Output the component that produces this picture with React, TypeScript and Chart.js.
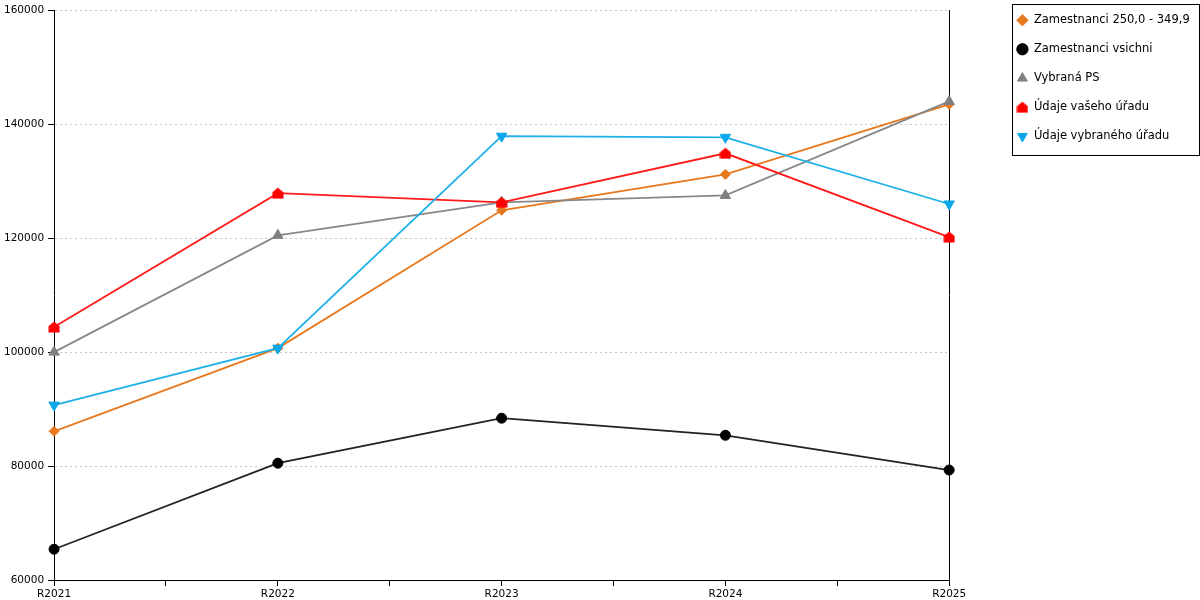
import { useEffect, useRef } from 'react'
import { Chart, registerables } from 'chart.js'

Chart.register(...registerables)

// values
const categories = ['R2021', 'R2022', 'R2023', 'R2024', 'R2025']
const zamestnanci250 = [86100, 100700, 124900, 131200, 143500]
const zamestnanciVsichni = [65400, 80500, 88400, 85400, 79300]
const vybranaPS = [100000, 120500, 126300, 127500, 144000]
const udajeVasehoUradu = [104400, 127900, 126300, 134900, 120200]
const udajeVybranehoUradu = [90700, 100700, 137900, 137700, 126000]
const yTicks = [60000, 80000, 100000, 120000, 140000, 160000]

const FONT = 'DejaVu Sans, Verdana, sans-serif'

function houseMarker(color: string) {
  const c = document.createElement('canvas')
  c.width = 12
  c.height = 12
  const ctx = c.getContext('2d')
  if (ctx) {
    ctx.fillStyle = color
    ctx.beginPath()
    ctx.moveTo(6, 0.5)
    ctx.lineTo(11.5, 5)
    ctx.lineTo(11.5, 11.5)
    ctx.lineTo(0.5, 11.5)
    ctx.lineTo(0.5, 5)
    ctx.closePath()
    ctx.fill()
  }
  return c
}

const toPoints = (values: number[]) => values.map((y, i) => ({ x: i, y }))

// frame around the legend + small upward nudge of the legend
const legendFrame = {
  id: 'legendFrame',
  afterLayout(chart: any) {
    const l = chart.legend
    if (l) {
      l.top -= 3
      l.bottom -= 3
    }
  },
  afterDraw(chart: any) {
    const l = chart.legend
    if (!l || !l.legendHitBoxes || !l.legendHitBoxes.length) return
    const boxes = l.legendHitBoxes
    const first = boxes[0]
    const last = boxes[boxes.length - 1]
    const x0 = Math.round(first.left - 5) + 0.5
    const x1 = Math.round(l.right) + 0.5
    const y0 = Math.round(first.top - 11) + 0.5
    const y1 = Math.round(last.top + last.height + 13) + 0.5
    const ctx = chart.ctx
    ctx.save()
    ctx.strokeStyle = '#000'
    ctx.lineWidth = 1
    ctx.strokeRect(x0, y0, x1 - x0, y1 - y0)
    ctx.restore()
  },
}

export default function App() {
  const canvasRef = useRef<HTMLCanvasElement>(null)
  const chartRef = useRef<Chart | null>(null)

  useEffect(() => {
    document.body.style.margin = '0'
    if (!canvasRef.current) return
    if (chartRef.current) chartRef.current.destroy()

    const ctx = canvasRef.current.getContext('2d')
    if (!ctx) return

    chartRef.current = new Chart(ctx, {
      type: 'line',
      data: {
        datasets: [
          {
            label: 'Zamestnanci 250,0 - 349,9',
            data: toPoints(zamestnanci250),
            borderColor: '#e8781e',
            backgroundColor: '#e8781e',
            borderWidth: 1.8,
            pointStyle: 'rectRot',
            pointRadius: 5,
            pointBackgroundColor: '#e8781e',
            pointBorderColor: '#e8781e',
            pointBorderWidth: 1,
            order: 5,
          },
          {
            label: 'Zamestnanci vsichni',
            data: toPoints(zamestnanciVsichni),
            borderColor: '#222222',
            backgroundColor: '#000000',
            borderWidth: 1.8,
            pointStyle: 'circle',
            pointRadius: 5,
            pointBackgroundColor: '#000000',
            pointBorderColor: '#000000',
            pointBorderWidth: 1,
            order: 4,
          },
          {
            label: 'Vybraná PS',
            data: toPoints(vybranaPS),
            borderColor: '#888888',
            backgroundColor: '#808080',
            borderWidth: 1.8,
            pointStyle: 'triangle',
            pointRadius: 6,
            pointBackgroundColor: '#808080',
            pointBorderColor: '#808080',
            pointBorderWidth: 1,
            order: 3,
          },
          {
            label: 'Údaje vašeho úřadu',
            data: toPoints(udajeVasehoUradu),
            borderColor: '#ff1a1a',
            backgroundColor: '#ff0000',
            borderWidth: 1.8,
            pointStyle: houseMarker('#ff0000'),
            pointRadius: 6,
            pointBackgroundColor: '#ff0000',
            pointBorderColor: '#ff0000',
            pointBorderWidth: 1,
            order: 2,
          },
          {
            label: 'Údaje vybraného úřadu',
            data: toPoints(udajeVybranehoUradu),
            borderColor: '#1eb0e8',
            backgroundColor: '#0aa8ea',
            borderWidth: 1.8,
            pointStyle: 'triangle',
            pointRotation: 180,
            pointRadius: 6,
            pointBackgroundColor: '#0aa8ea',
            pointBorderColor: '#0aa8ea',
            pointBorderWidth: 1,
            order: 1,
          },
        ],
      },
      options: {
        responsive: true,
        maintainAspectRatio: false,
        animation: false,
        clip: false,
        layout: { padding: { left: 0, right: 1, top: 0, bottom: 0 } },
        plugins: {
          tooltip: { enabled: false },
          legend: {
            position: 'right',
            align: 'start',
            reverse: true,
            labels: {
              usePointStyle: true,
              boxWidth: 12,
              boxHeight: 8,
              padding: 17.5,
              color: '#000',
              font: { family: FONT, size: 11.5 },
            },
          },
        },
        scales: {
          x: {
            type: 'linear',
            min: 0,
            max: categories.length - 1,
            grid: {
              display: true,
              drawOnChartArea: false,
              drawTicks: true,
              tickLength: 6,
              color: '#000',
            },
            border: { display: true, color: '#000', width: 1 },
            ticks: {
              stepSize: 0.5,
              autoSkip: false,
              maxRotation: 0,
              padding: 2,
              color: '#000',
              font: { family: FONT, size: 10.5 },
              callback: (v: any) => (Number.isInteger(v) ? categories[v] : ''),
            },
            afterFit: (scale: any) => {
              scale.height = 20
            },
          },
          y: {
            type: 'linear',
            min: yTicks[0],
            max: yTicks[yTicks.length - 1],
            grid: {
              color: '#c4c4c4',
              tickColor: '#000',
              drawTicks: true,
              tickLength: 6,
            },
            border: { display: true, color: '#000', width: 1, dash: [2, 3] },
            ticks: {
              stepSize: yTicks[1] - yTicks[0],
              padding: 4,
              color: '#000',
              font: { family: FONT, size: 10.5 },
              callback: (v: any) => String(v),
            },
          },
          y2: {
            type: 'linear',
            position: 'right',
            display: true,
            grid: { display: false, drawOnChartArea: false },
            border: { display: true, color: '#000', width: 1 },
            ticks: { display: false },
            afterFit: (scale: any) => {
              scale.width = 50
            },
          },
        },
      },
      plugins: [legendFrame],
    })

    return () => {
      if (chartRef.current) {
        chartRef.current.destroy()
        chartRef.current = null
      }
    }
  }, [])

  return (
    <div style={{ position: 'relative', width: 1200, height: 600 }}>
      <canvas ref={canvasRef} />
    </div>
  )
}
